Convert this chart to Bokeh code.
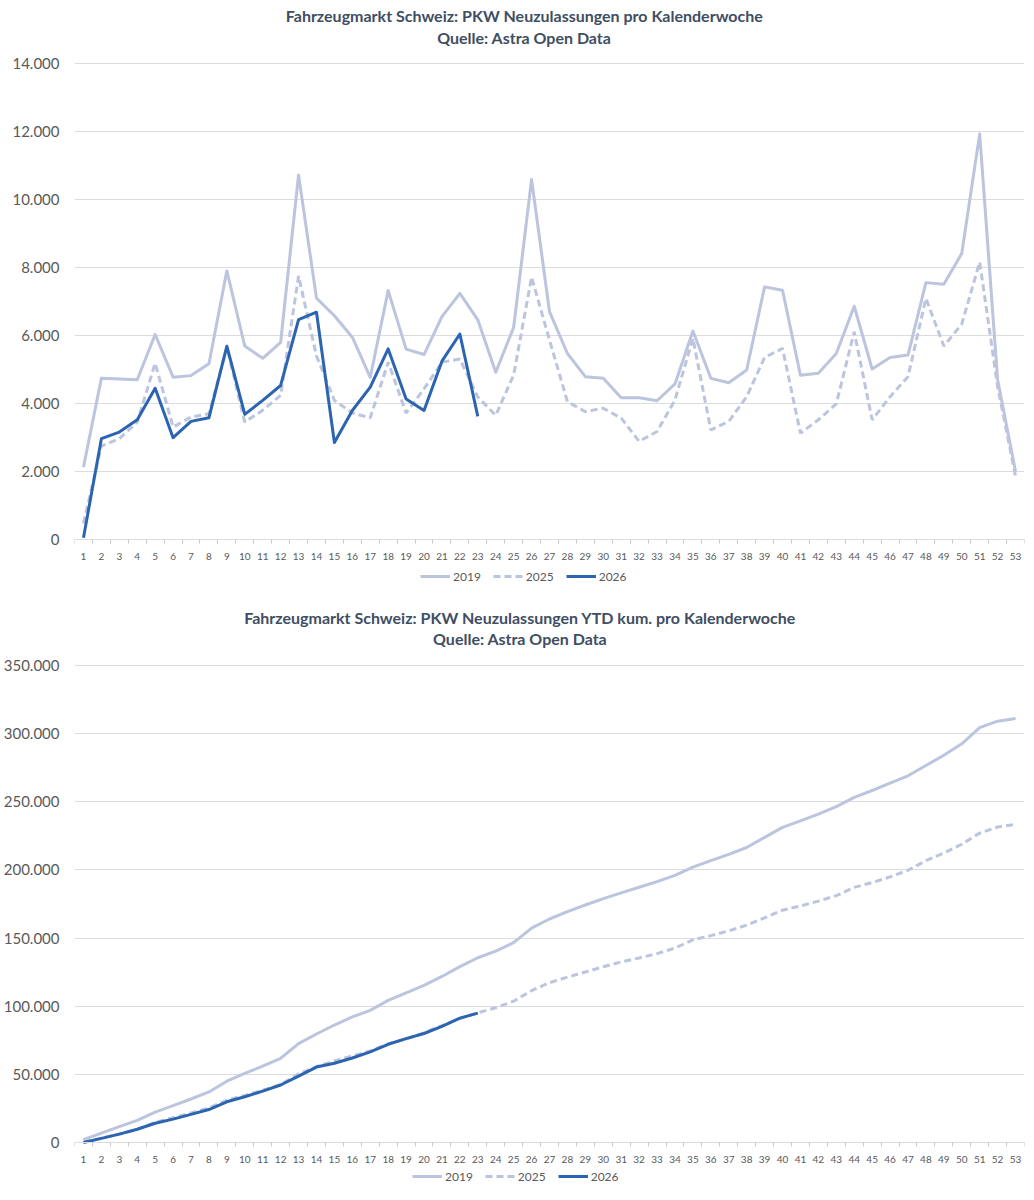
import numpy as np
from bokeh.plotting import figure
from bokeh.models import Legend, LegendItem, FixedTicker, Range1d, Label
from bokeh.layouts import column
from bokeh.embed import file_html
from bokeh.resources import INLINE

# Neuzulassungen pro Kalenderwoche
weeks = list(range(1, 54))
reg_2019 = [2130, 4740, 4720, 4700, 6030, 4775, 4820, 5170, 7900, 5690,
            5330, 5800, 10720, 7100, 6580, 5950, 4770, 7320, 5600, 5440,
            6555, 7240, 6460, 4920, 6240, 10590, 6700, 5470, 4790, 4740,
            4170, 4170, 4080, 4575, 6130, 4740, 4610, 4985, 7430, 7330,
            4830, 4890, 5470, 6860, 5015, 5350, 5425, 7555, 7510, 8410,
            11930, 4700, 2000]
reg_2025 = [470, 2750, 2965, 3450, 5185, 3310, 3600, 3700, 5650, 3455,
            3800, 4240, 7750, 5400, 4090, 3720, 3580, 5215, 3720, 4430,
            5215, 5310, 4190, 3650, 4840, 7720, 5865, 4055, 3760, 3860,
            3570, 2885, 3175, 4105, 5915, 3225, 3470, 4200, 5355, 5620,
            3130, 3520, 3990, 6110, 3520, 4200, 4790, 7090, 5690, 6335,
            8160, 4500, 1860]
reg_2026 = [50, 2965, 3160, 3520, 4450, 2995, 3475, 3580, 5685, 3680,
            4090, 4530, 6470, 6685, 2850, 3795, 4480, 5605, 4130, 3795,
            5245, 6045, 3620]

series_names = ["2019", "2025", "2026"]
weekly_ticks = [0, 2000, 4000, 6000, 8000, 10000, 12000, 14000]
cum_ticks = [0, 50000, 100000, 150000, 200000, 250000, 300000, 350000]

title_weekly = "Fahrzeugmarkt Schweiz: PKW Neuzulassungen pro Kalenderwoche"
title_cum = "Fahrzeugmarkt Schweiz: PKW Neuzulassungen YTD kum. pro Kalenderwoche"
source_text = "Quelle: Astra Open Data"

LIGHT = "#BCC4DE"
DARK = "#2B64B1"
GRID = "#DCDCDC"
TEXT = "#595959"
TITLE = "#404E63"
FONT = "Lato"
W = 1034
RIGHT = 10


def separator():
    s = figure(width=W, height=2, toolbar_location=None, tools="",
               output_backend="svg", min_border=0)
    s.axis.visible = False
    s.grid.visible = False
    s.outline_line_color = None
    s.background_fill_color = "#DEDEDE"
    s.border_fill_color = "#DEDEDE"
    return s


def make_chart(values, ticks, title, height, left, top_px, bottom_px, title_px, legend_pos):
    # the frame fills the whole height; title, axis and legend live inside it
    per_px = ticks[-1] / (bottom_px - top_px)
    y_hi = ticks[-1] + top_px * per_px
    y_lo = -(height - bottom_px) * per_px
    p = figure(width=W, height=height, toolbar_location=None, tools="",
               output_backend="svg", x_range=Range1d(0.5, 53.5),
               y_range=Range1d(y_lo, y_hi), min_border_left=left,
               min_border_right=RIGHT, min_border_top=0, min_border_bottom=0)
    p.outline_line_color = None
    p.xgrid.visible = False
    p.ygrid.ticker = FixedTicker(ticks=ticks)
    p.ygrid.grid_line_color = GRID

    p.yaxis.ticker = FixedTicker(ticks=ticks)
    p.yaxis.major_label_overrides = {t: f"{t:,}".replace(",", ".") for t in ticks}
    p.yaxis.axis_line_color = None
    p.yaxis.major_tick_line_color = None
    p.yaxis.major_tick_out = 0
    p.yaxis.minor_tick_line_color = None
    p.yaxis.major_label_standoff = 15
    p.yaxis.major_label_text_font = FONT
    p.yaxis.major_label_text_font_size = "15px"
    p.yaxis.major_label_text_color = TEXT

    p.xaxis.fixed_location = 0
    p.xaxis.ticker = FixedTicker(ticks=weeks, minor_ticks=[w - 0.5 for w in weeks] + [53.5])
    p.xaxis.axis_line_color = GRID
    p.xaxis.major_tick_line_color = None
    p.xaxis.major_tick_out = 0
    p.xaxis.minor_tick_line_color = "#C8C8C8"
    p.xaxis.minor_tick_in = 0
    p.xaxis.minor_tick_out = 4
    p.xaxis.major_label_standoff = 9
    p.xaxis.major_label_text_font = FONT
    p.xaxis.major_label_text_font_size = "10px"
    p.xaxis.major_label_text_color = TEXT

    r19 = p.line(weeks, values[0], line_color=LIGHT, line_width=3, line_join="round")
    r25 = p.line(weeks, values[1], line_color=LIGHT, line_width=3, line_dash="7 4")
    r26 = p.line(weeks[:len(values[2])], values[2], line_color=DARK, line_width=3,
                 line_join="round")

    legend = Legend(items=[LegendItem(label=n, renderers=[r]) for n, r in
                           zip(series_names, [r19, r25, r26])],
                    location=legend_pos, orientation="horizontal")
    legend.border_line_color = None
    legend.background_fill_alpha = 0
    legend.padding = 0
    legend.margin = 0
    legend.spacing = 12
    legend.glyph_width = 30
    legend.glyph_height = 16
    legend.label_height = 16
    legend.label_standoff = 3
    legend.label_text_font = FONT
    legend.label_text_font_size = "12px"
    legend.label_text_color = TEXT
    p.add_layout(legend, "center")

    # two title lines, centred on the whole chart width
    frame_w = W - left - RIGHT
    cx = 27 + (W / 2 - (left + frame_w / 2)) * 53 / frame_w
    for txt, px in zip([title, source_text], title_px):
        p.add_layout(Label(x=cx, y=y_hi - px * per_px, text=txt, text_align="center",
                           text_baseline="alphabetic", text_font=FONT,
                           text_font_style="bold", text_font_size="16px",
                           text_color=TITLE))
    return p


top_chart = make_chart([reg_2019, reg_2025, reg_2026], weekly_ticks, title_weekly,
                       596, 61, 63, 539, (14.5, 37), (346, 12))
bottom_chart = make_chart([np.cumsum(reg_2019), np.cumsum(reg_2025), np.cumsum(reg_2026)],
                          cum_ticks, title_cum, 598, 69, 67, 544, (18.5, 39.5), (338, 12))

page = column(top_chart, separator(), bottom_chart, separator(), spacing=0)
open("out.html", "w").write(file_html(page, INLINE))
